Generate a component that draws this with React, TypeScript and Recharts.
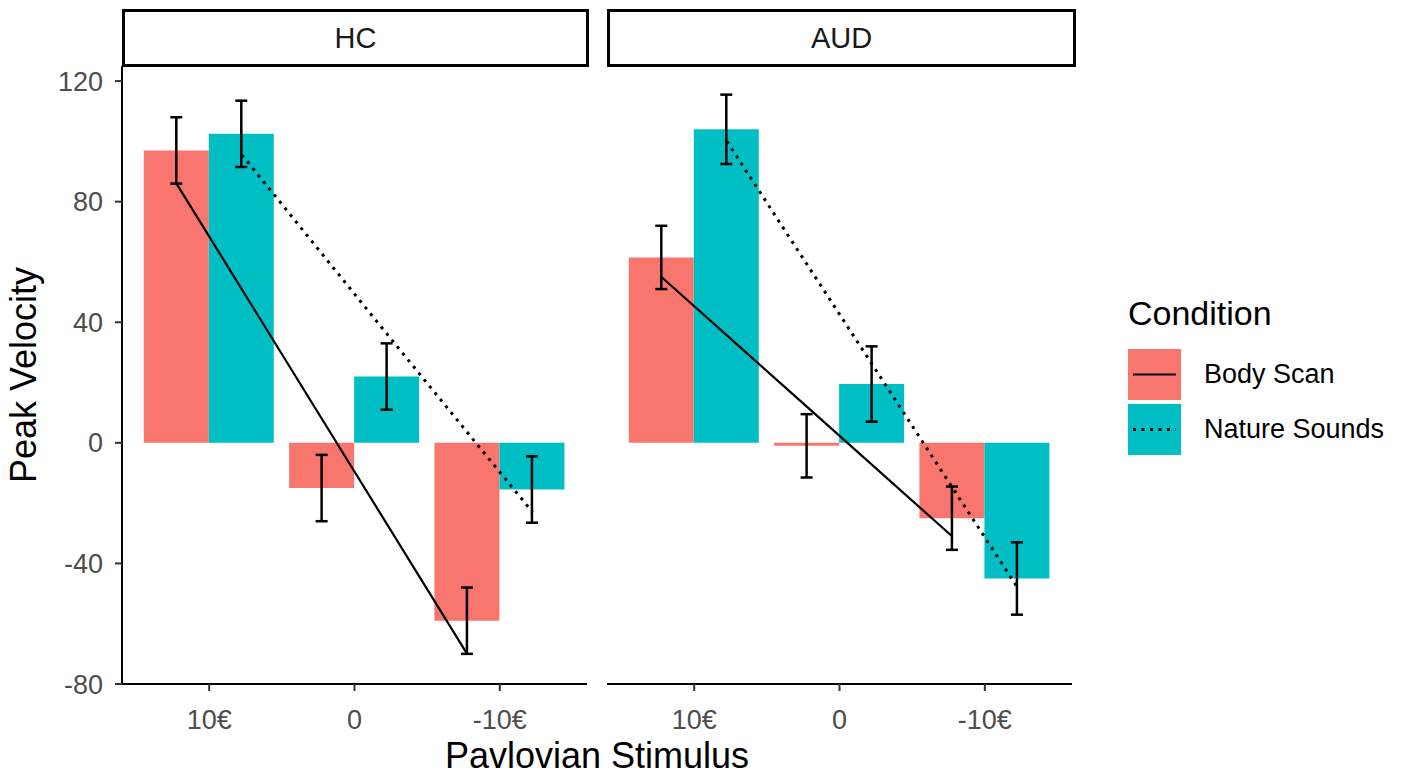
import { ComposedChart, Bar, Line, XAxis, YAxis, ErrorBar } from 'recharts'

// Categorias e paineis
const ESTIMULOS = ['10€', '0', '-10€']
const CONDICOES = ['Body Scan', 'Nature Sounds']
const CORES = ['#F8766D', '#00BFC4']
const Y_TICKS = [-80, -40, 0, 40, 80, 120]

// HC
const hcBody = [97, -15, -59]
const hcBodySe = [11, 11, 11]
const hcNature = [102.5, 22, -15.5]
const hcNatureSe = [11, 11, 11]
const hcBodyFit = [86, 8, -70]
const hcNatureFit = [95.5, 36, -23]

// AUD
const audBody = [61.5, -1, -25]
const audBodySe = [10.5, 10.5, 10.5]
const audNature = [104, 19.5, -45]
const audNatureSe = [11.5, 12.5, 12]
const audBodyFit = [55, 12, -31]
const audNatureFit = [100, 26, -48]

const FONTE = '"Liberation Sans", Arial, sans-serif'
const DODGE = 0.225
const PAINEL_W = 465
const TOPO = 66
const BASE = 684
const PONTILHADO = '3 5.5'

function montar(body: number[], bodySe: number[], nature: number[], natureSe: number[], bodyFit: number[], natureFit: number[]) {
  return ESTIMULOS.map((s, i) => ({
    s,
    body: body[i], bodySe: bodySe[i],
    nature: nature[i], natureSe: natureSe[i],
    bodyFit: bodyFit[i], natureFit: natureFit[i],
    xb: i + 1 - DODGE, xn: i + 1 + DODGE,
  }))
}

const dadosHC = montar(hcBody, hcBodySe, hcNature, hcNatureSe, hcBodyFit, hcNatureFit)
const dadosAUD = montar(audBody, audBodySe, audNature, audNatureSe, audBodyFit, audNatureFit)

function Painel({ dados, comY }: { dados: any[]; comY: boolean }) {
  const yw = comY ? 122 : 0
  const pad = PAINEL_W / 32
  return (
    <ComposedChart
      width={yw + PAINEL_W + 3}
      height={780}
      data={dados}
      margin={{ top: TOPO, right: 3, bottom: 780 - BASE - 40, left: 0 }}
      barCategoryGap="5%"
      barGap={0}
    >
      <XAxis
        xAxisId="cat"
        dataKey="s"
        height={40}
        padding={{ left: pad, right: pad }}
        axisLine={{ stroke: '#000', strokeWidth: 2 }}
        tickLine={{ stroke: '#333', strokeWidth: 2 }}
        tickSize={7}
        tickMargin={19}
        tick={{ fontSize: 27, fill: '#4D4D4D', fontFamily: FONTE }}
      />
      <XAxis xAxisId="pb" type="number" dataKey="xb" domain={[0.4, 3.6]} hide allowDataOverflow />
      <XAxis xAxisId="pn" type="number" dataKey="xn" domain={[0.4, 3.6]} hide allowDataOverflow />
      <YAxis
        type="number"
        domain={[-80, 125]}
        ticks={Y_TICKS}
        allowDataOverflow
        hide={!comY}
        width={yw}
        axisLine={{ stroke: '#000', strokeWidth: 2 }}
        tickLine={{ stroke: '#333', strokeWidth: 2 }}
        tickSize={7}
        tickMargin={12}
        tick={{ fontSize: 27, fill: '#4D4D4D', fontFamily: FONTE }}
      />
      <Bar xAxisId="cat" dataKey="body" fill={CORES[0]} isAnimationActive={false}>
        <ErrorBar dataKey="bodySe" width={6} strokeWidth={2.5} stroke="#000" direction="y" />
      </Bar>
      <Bar xAxisId="cat" dataKey="nature" fill={CORES[1]} isAnimationActive={false}>
        <ErrorBar dataKey="natureSe" width={6} strokeWidth={2.5} stroke="#000" direction="y" />
      </Bar>
      <Line xAxisId="pb" type="linear" dataKey="bodyFit" stroke="#000" strokeWidth={2.2} dot={false} isAnimationActive={false} />
      <Line xAxisId="pn" type="linear" dataKey="natureFit" stroke="#000" strokeWidth={3} strokeDasharray={PONTILHADO} dot={false} isAnimationActive={false} />
    </ComposedChart>
  )
}

function Faixa({ texto, left, width }: { texto: string; left: number; width: number }) {
  return (
    <div style={{
      position: 'absolute', left, top: 9, width, height: TOPO - 9 + 1, boxSizing: 'border-box',
      border: '3px solid #000', display: 'flex', alignItems: 'center', justifyContent: 'center',
      fontSize: 29, color: '#1A1A1A', background: '#fff',
    }}>
      {texto}
    </div>
  )
}

export default function App() {
  return (
    <div style={{ position: 'absolute', left: 0, top: 0, width: 1418, height: 780, background: '#fff', fontFamily: FONTE, overflow: 'hidden' }}>
      <div style={{ position: 'absolute', left: 0, top: 0 }}>
        <Painel dados={dadosHC} comY />
      </div>
      <div style={{ position: 'absolute', left: 607, top: 0 }}>
        <Painel dados={dadosAUD} comY={false} />
      </div>

      <Faixa texto="HC" left={122} width={467} />
      <Faixa texto="AUD" left={607} width={469} />

      {/* Titulos dos eixos */}
      <div style={{
        position: 'absolute', left: 24, top: 375, transform: 'translate(-50%, -50%) rotate(-90deg)',
        fontSize: 36, whiteSpace: 'nowrap', color: '#000',
      }}>Peak Velocity</div>
      <div style={{
        position: 'absolute', left: 597, top: 756, transform: 'translate(-50%, -50%)',
        fontSize: 36, whiteSpace: 'nowrap', color: '#000',
      }}>Pavlovian Stimulus</div>

      {/* Legenda */}
      <div style={{ position: 'absolute', left: 1128, top: 294, fontSize: 34, color: '#000' }}>Condition</div>
      {CONDICOES.map((c, i) => (
        <div key={c} style={{ position: 'absolute', left: 1128, top: 349 + i * 55, display: 'flex', alignItems: 'center' }}>
          <svg width={53} height={51} style={{ display: 'block' }}>
            <rect x={0} y={0} width={53} height={51} fill={CORES[i]} />
            <line x1={5} x2={48} y1={25.5} y2={25.5} stroke="#000" strokeWidth={i === 0 ? 2.2 : 3}
              strokeDasharray={i === 0 ? undefined : PONTILHADO} />
          </svg>
          <span style={{ marginLeft: 23, fontSize: 27, color: '#000', whiteSpace: 'nowrap' }}>{c}</span>
        </div>
      ))}
    </div>
  )
}
